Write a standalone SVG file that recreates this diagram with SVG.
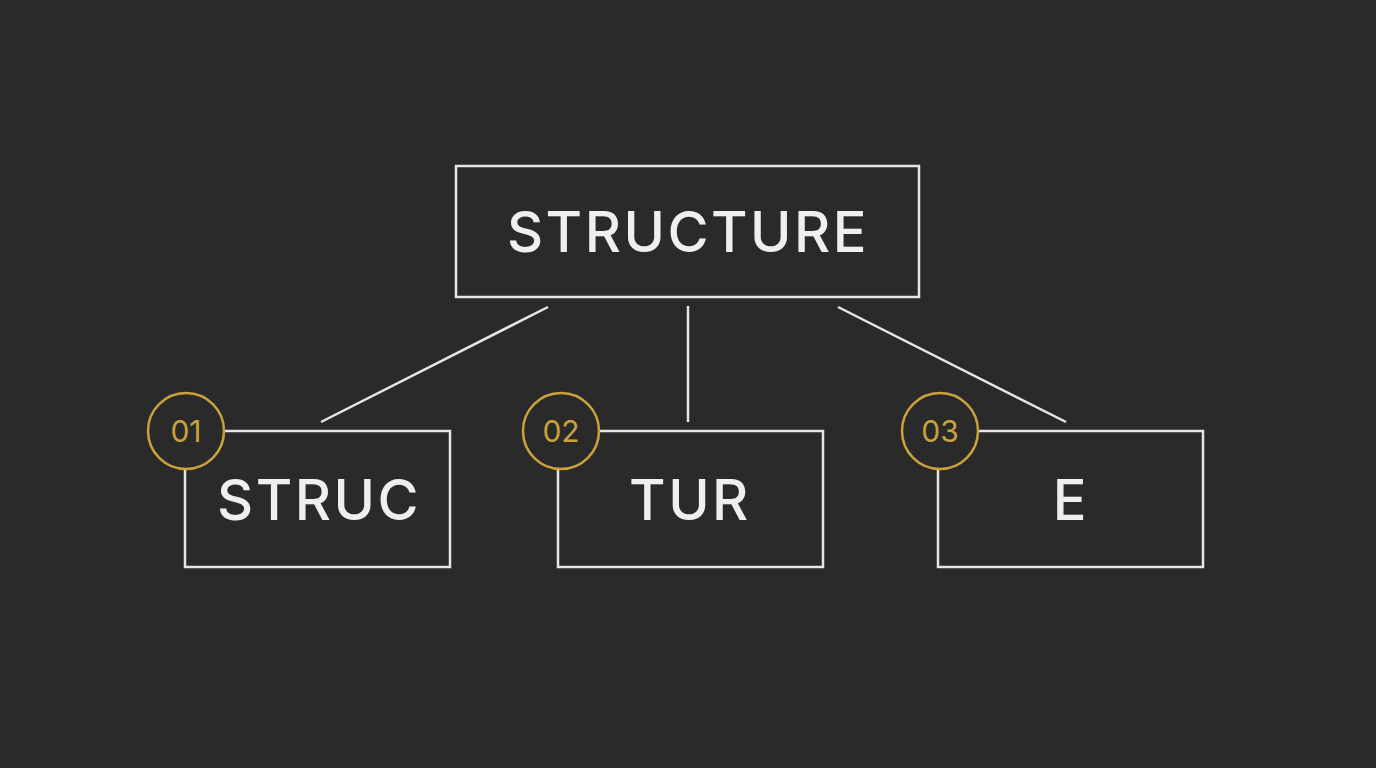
<svg xmlns="http://www.w3.org/2000/svg" width="1376" height="768" viewBox="0 0 1376 768">
<style>
.box{fill:#2a2a2a;stroke:#e6e6e6;stroke-width:2.5}
.lbl{fill:#efefef;font-family:Inter,"Open Sans",sans-serif;font-size:56px;font-weight:500;text-anchor:middle;letter-spacing:2.5px}
.badge{fill:#2a2a2a;stroke:#c9a23c;stroke-width:2.5}
.num{fill:#c9a23c;font-family:Inter,"Open Sans",sans-serif;font-size:30px;text-anchor:middle}
.con{stroke:#e6e6e6;stroke-width:2.5}
</style>
<rect width="1376" height="768" fill="#2a2a2a"/>
<g id="connectors">
<line class="con" x1="548" y1="307" x2="321" y2="422"/>
<line class="con" x1="688" y1="306" x2="688" y2="422"/>
<line class="con" x1="838" y1="307" x2="1066" y2="422"/>
</g>
<g id="root"><rect class="box" x="456" y="166" width="463" height="131"/><text class="lbl" x="688" y="252">STRUCTURE</text></g>
<g id="n1"><rect class="box" x="185" y="431" width="265" height="136"/><text class="lbl" x="319" y="520">STRUC</text>
<circle class="badge" cx="186" cy="431" r="38"/><text class="num" x="186" y="442">01</text></g>
<g id="n2"><rect class="box" x="558" y="431" width="265" height="136"/><text class="lbl" x="690" y="520">TUR</text>
<circle class="badge" cx="561" cy="431" r="38"/><text class="num" x="561" y="442">02</text></g>
<g id="n3"><rect class="box" x="938" y="431" width="265" height="136"/><text class="lbl" x="1071" y="520">E</text>
<circle class="badge" cx="940" cy="431" r="38"/><text class="num" x="940" y="442">03</text></g>
</svg>
